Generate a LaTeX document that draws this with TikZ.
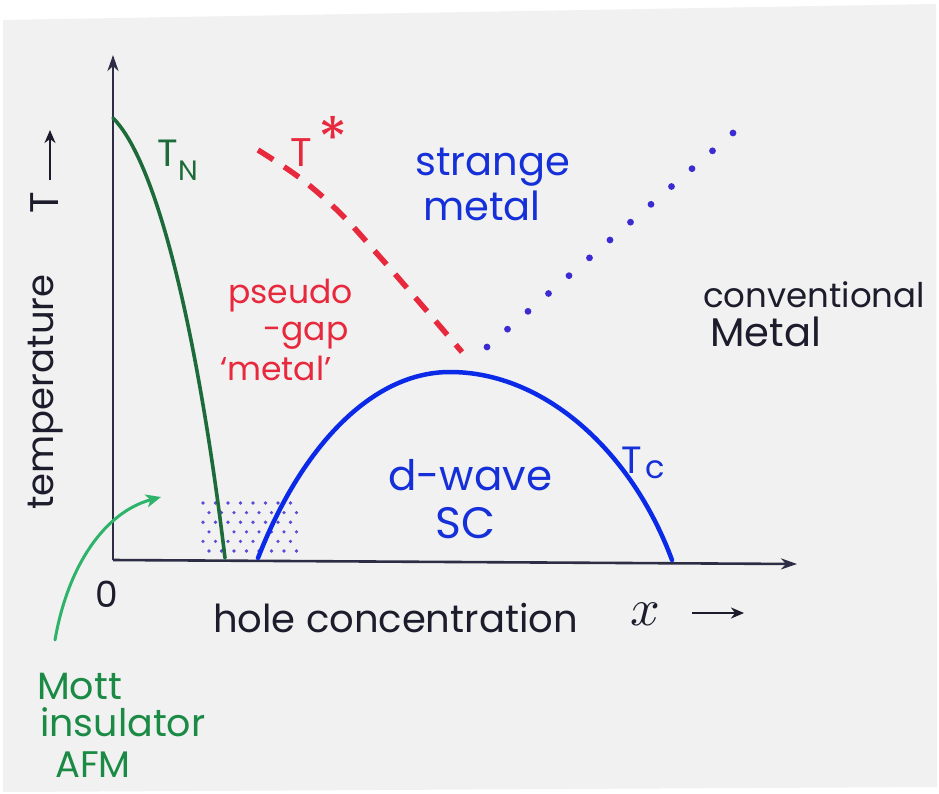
\documentclass[tikz,border=0pt]{standalone}
\usepackage{fontspec}
\setmainfont{Poppins}
\usetikzlibrary{arrows.meta,calc}
\definecolor{paper}{HTML}{F1F1F1}
\definecolor{axiscol}{HTML}{2D2D45}
\definecolor{tngreen}{HTML}{1D6B3A}
\definecolor{txtgreen}{HTML}{1A8A45}
\definecolor{arrgreen}{HTML}{2DB36A}
\definecolor{pgred}{HTML}{E8283C}
\definecolor{scblue}{HTML}{0A2AE8}
\definecolor{txtblue}{HTML}{1530D8}
\definecolor{dotblue}{HTML}{3B2BD0}
\definecolor{ink}{HTML}{1C1C2C}
\tikzset{
  axisline/.style={draw=axiscol,line width=2.6pt},
  lbl/.style={inner sep=0pt,anchor=base west,font=\fontsize{36}{40}\selectfont},
  mid/.style={inner sep=0pt,anchor=center},
}
\begin{document}
\begin{tikzpicture}[x=1pt,y=-1pt]
\useasboundingbox (0,0) rectangle (939,793);
\fill[white] (0,0) rectangle (939,793);
\fill[paper] (3,20) -- (936,4) -- (937,787) -- (3,792) -- cycle;

% dotted region
\foreach \r in {0,...,5}{
  \pgfmathsetmacro{\yy}{503+\r*9.6}
  \pgfmathsetmacro{\off}{mod(\r,2)*6}
  \foreach \c in {0,...,7}{
    \fill[dotblue!85] ({203+\off+\c*12.5},\yy) circle (1.8);
  }
}

% axes
\coordinate (O) at (113,560);
\coordinate (ytip) at (113,55);
\coordinate (xtip) at (797,564);
\draw[axisline,-{Stealth[length=16pt,width=11pt,inset=5pt]}] (O) -- (ytip);
\draw[axisline,-{Stealth[length=16pt,width=11pt,inset=5pt]}] (O) -- (xtip);

% T_N line
\coordinate (tn0) at (113,118);
\coordinate (tn1) at (225,558);
\draw[tngreen,line width=3.6pt,line cap=round]
  (tn0) .. controls (160,165) and (200,350) .. (tn1);

% T* dashed
\draw[pgred,line width=5.5pt,dash pattern=on 18pt off 13pt]
  plot[smooth,tension=0.6] coordinates {(258,150) (300,178) (340,213) (380,257) (420,303) (462,352)};

% strange-metal crossover dotted
\coordinate (d0) at (487,347);
\coordinate (d1) at (733,133);
\foreach \i in {0,...,12}{
  \fill[dotblue] ($(d0)!\i/12!(d1)$) circle (3.4);
}

% Tc dome
\coordinate (tc0) at (258,558);
\coordinate (tctop) at (450,372);
\coordinate (tc1) at (672,560);
\draw[scblue,line width=4.5pt,line cap=round]
  (tc0) .. controls (300,450) and (370,372) .. (tctop)
        .. controls (545,372) and (632,452) .. (tc1);

% green arrow to Mott region
\coordinate (ga0) at (55,640);
\coordinate (ga1) at (161,497);
\draw[arrgreen,line width=3pt,line cap=round,-{Stealth[length=15pt,width=13pt,inset=4pt]}]
  (ga0) .. controls (68,565) and (105,512) .. (ga1);

% axis labels
\node[mid,rotate=90,ink,font=\fontsize{37}{40}\selectfont] (temp) at (46,392) {temperature};
\node[mid,rotate=90,ink,font=\fontsize{40}{40}\selectfont] (Tlab) at (45,203) {T};
\coordinate (ta0) at (50,180);
\coordinate (ta1) at (50,130);
\draw[ink,line width=2.6pt,-{Stealth[length=13pt,width=11pt,inset=4pt]}] (ta0) -- (ta1);

\node[mid,ink,font=\fontsize{36}{40}\selectfont] (zero) at (107,594) {0};
\node[lbl,ink,font=\fontsize{38.5}{40}\selectfont] (hole) at (213,632) {hole concentration};
\node[mid,ink] (xlab) at (645,614) {\scalebox{5.2}{$x$}};
\coordinate (xa0) at (692,613);
\coordinate (xa1) at (744,613);
\draw[ink,line width=2.4pt,-{Stealth[length=13pt,width=11pt,inset=4pt]}] (xa0) -- (xa1);

% T_N label
\node[lbl,tngreen,font=\fontsize{38}{40}\selectfont] (TN) at (157,166) {T};
\node[lbl,tngreen,font=\fontsize{28}{30}\selectfont] (TNsub) at (178,180) {N};

% T* label
\node[lbl,pgred,font=\fontsize{40}{40}\selectfont] (Ts) at (290,166) {T};
\node[mid,pgred,font=\fontsize{60}{60}\selectfont] (Tsstar) at (333,138) {*};

% region labels
\node[lbl,txtblue,font=\fontsize{40}{44}\selectfont] (strange) at (415,175) {strange};
\node[lbl,txtblue,font=\fontsize{40}{44}\selectfont] (metal) at (423,220) {metal};

\node[lbl,pgred,font=\fontsize{33}{38}\selectfont] (pseudo) at (228,303) {pseudo};
\node[lbl,pgred,font=\fontsize{33}{38}\selectfont] (gap) at (263,340) {-gap};
\node[lbl,pgred,font=\fontsize{33}{38}\selectfont] (pmetal) at (220,380) {‘metal’};

\node[lbl,ink,font=\fontsize{34}{38}\selectfont] (conv) at (703,307) {conventional};
\node[lbl,ink,font=\fontsize{40}{42}\selectfont] (cmetal) at (710,346) {Metal};

\node[lbl,txtblue,font=\fontsize{42}{44}\selectfont] (dwave) at (388,490) {d-wave};
\node[lbl,txtblue,font=\fontsize{44}{46}\selectfont] (sc) at (435,538) {SC};

\node[lbl,txtblue,font=\fontsize{38}{40}\selectfont] (Tc) at (621,473) {T};
\node[lbl,txtblue,font=\fontsize{32}{34}\selectfont] (Tcsub) at (645,478) {c};

\node[lbl,txtgreen,font=\fontsize{38}{40}\selectfont] (mott) at (37,699) {Mott};
\node[lbl,txtgreen,font=\fontsize{38}{40}\selectfont] (ins) at (40,736) {insulator};
\node[lbl,txtgreen,font=\fontsize{37}{40}\selectfont] (afm) at (55,777) {AFM};
\end{tikzpicture}
\end{document}
